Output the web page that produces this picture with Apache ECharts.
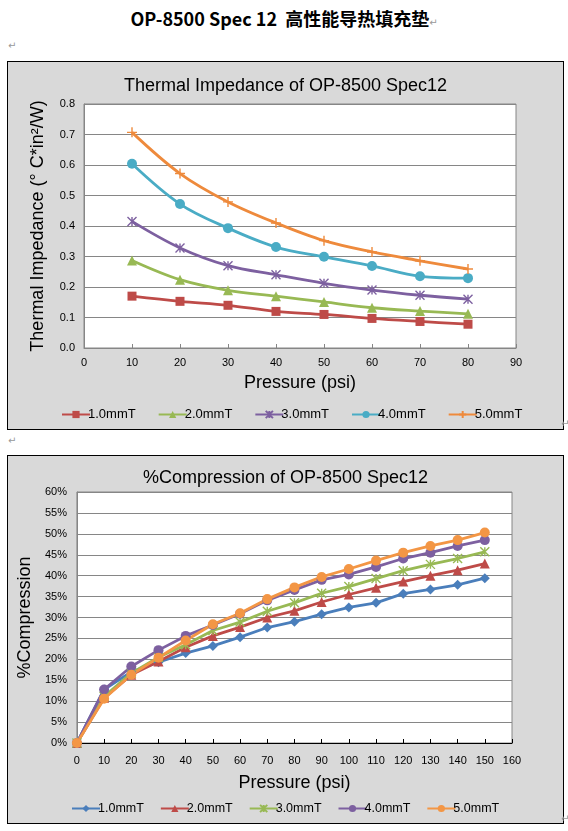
<!DOCTYPE html>
<html lang="zh">
<head>
<meta charset="UTF-8">
<title>OP-8500 Spec 12</title>
<script src="https://cdn.jsdelivr.net/npm/echarts@6.0.0/dist/echarts.min.js"></script>
<style>
    html, body { margin: 0; padding: 0; background: #fff; }
    body { width: 568px; height: 831px; position: relative; overflow: hidden; }
    #mainTitle {
        position: absolute; left: 0; top: 5px; width: 568px; text-align: center;
        font: bold 18px "Noto Sans CJK SC", "Liberation Sans", sans-serif; color: #000;
    }
    .box {
        position: absolute; left: 7px; width: 555px; height: 367px;
        border: 1px solid #000; background: #d9d9d9;
    }
    .mark { position: absolute; font: 10px "DejaVu Sans", sans-serif; color: #999; }
</style>
</head>
<body>
<div id="mainTitle">OP-8500 Spec 12&nbsp; 高性能导热填充垫<span class="mark" style="position:static">↵</span></div>
<span class="mark" style="left:8px;top:40px">↵</span>
<div id="impedance" class="box" style="top:61px"></div>
<span class="mark" style="left:561px;top:418px">↵</span>
<span class="mark" style="left:8px;top:435px">↵</span>
<div id="compression" class="box" style="top:455px"></div>
<span class="mark" style="left:561px;top:813px">↵</span>
<script type="text/javascript">
    // --- data ---
    var seriesNames = ['1.0mmT', '2.0mmT', '3.0mmT', '4.0mmT', '5.0mmT'];

    // Thermal impedance (°C*in²/W) vs pressure
    var impPressure = [10, 20, 30, 40, 50, 60, 70, 80];
    var imp10 = [0.170, 0.153, 0.140, 0.120, 0.110, 0.097, 0.087, 0.078];
    var imp20 = [0.287, 0.224, 0.189, 0.170, 0.151, 0.132, 0.121, 0.112];
    var imp30 = [0.415, 0.328, 0.270, 0.240, 0.212, 0.190, 0.173, 0.160];
    var imp40 = [0.604, 0.472, 0.393, 0.331, 0.299, 0.269, 0.235, 0.229];
    var imp50 = [0.707, 0.572, 0.479, 0.410, 0.352, 0.315, 0.286, 0.259];

    // % compression vs pressure
    var compPressure = [0, 10, 20, 30, 40, 50, 60, 70, 80, 90, 100, 110, 120, 130, 140, 150];
    var comp10 = [0, 12.8, 17.0, 19.3, 21.5, 23.2, 25.3, 27.6, 29.0, 30.8, 32.4, 33.5, 35.7, 36.7, 37.8, 39.4];
    var comp20 = [0, 10.8, 16.3, 19.5, 22.9, 25.6, 27.7, 30.0, 31.6, 33.7, 35.5, 37.1, 38.6, 40.0, 41.3, 42.9];
    var comp30 = [0, 11.1, 16.7, 20.5, 23.5, 26.9, 28.9, 31.5, 33.5, 35.8, 37.4, 39.3, 41.2, 42.7, 44.1, 45.7];
    var comp40 = [0, 12.8, 18.3, 22.2, 25.6, 28.2, 30.9, 34.1, 36.6, 39.0, 40.3, 42.1, 44.1, 45.5, 47.1, 48.5];
    var comp50 = [0, 10.6, 16.3, 20.4, 24.5, 28.4, 31.0, 34.4, 37.2, 39.7, 41.6, 43.6, 45.5, 47.1, 48.5, 50.3];

    var FONT = 'Liberation Sans';
    var ASTER = 'path://M0,0L10,10M10,0L0,10M5,0L5,10';
    var PLUS = 'path://M5,0L5,10M0,5L10,5';

    function pairs(xs, ys) {
        return xs.map(function (x, i) { return [x, ys[i]]; });
    }

    function makeSeries(name, xs, ys, color, symbol, size, smooth) {
        var stroked = symbol.indexOf('path://') === 0;
        return {
            name: name,
            type: 'line',
            data: pairs(xs, ys),
            smooth: smooth ? 0.35 : false,
            symbol: symbol,
            symbolSize: size,
            showAllSymbol: true,
            lineStyle: { color: color, width: 2.8 },
            itemStyle: stroked
                ? { color: 'rgba(0,0,0,0)', borderColor: color, borderWidth: 1.4 }
                : { color: color, borderColor: color, borderWidth: 0 },
            emphasis: { disabled: true },
            z: 3
        };
    }

    function baseOption(titleText, titleTop) {
        return {
            animation: false,
            textStyle: { fontFamily: FONT },
            title: {
                text: titleText,
                left: 'center',
                top: titleTop,
                textStyle: { fontFamily: FONT, fontSize: 18, fontWeight: 'normal', color: '#000' }
            }
        };
    }

    function legendFor(left, gap, size) {
        return {
            data: seriesNames, top: 341, left: left, itemGap: gap, itemWidth: 28, itemHeight: 9,
            textStyle: { fontFamily: FONT, fontSize: size, color: '#000', padding: [0, 0, 0, -7] }
        };
    }

    // ---------- thermal impedance ----------
    var impChart = echarts.init(document.getElementById('impedance'), null, { renderer: 'canvas' });
    var impColors = ['#BE4B48', '#98B954', '#7D60A0', '#4AACC5', '#EE8A3C'];
    var impOption = baseOption('Thermal Impedance of OP-8500 Spec12', 10);
    impOption.grid = {
        left: 76, right: 47, top: 42, bottom: 81,
        show: true, backgroundColor: '#fff', borderColor: '#868686', borderWidth: 1
    };
    impOption.legend = legendFor(48, 22, 13);
    impOption.xAxis = {
        type: 'value', min: 0, max: 90, interval: 10,
        name: 'Pressure (psi)', nameLocation: 'middle', nameGap: 26,
        nameTextStyle: { fontFamily: FONT, fontSize: 18, color: '#000' },
        axisLine: { lineStyle: { color: '#868686' } },
        axisTick: { show: true, inside: true, length: 4, lineStyle: { color: '#868686' } },
        axisLabel: { fontFamily: FONT, fontSize: 11, color: '#000', margin: 9 },
        splitLine: { show: false }
    };
    impOption.yAxis = {
        type: 'value', min: 0, max: 0.8, interval: 0.1,
        name: 'Thermal Impedance (° C*in²/W)', nameLocation: 'middle', nameGap: 37, nameRotate: 90,
        nameTextStyle: { fontFamily: FONT, fontSize: 18, color: '#000' },
        axisLine: { show: true, lineStyle: { color: '#868686' } },
        axisTick: { show: false },
        axisLabel: {
            fontFamily: FONT, fontSize: 11, color: '#000', margin: 9,
            formatter: function (v) { return v.toFixed(1); }
        },
        splitLine: { lineStyle: { color: '#868686', width: 1 } }
    };
    impOption.series = [
        makeSeries(seriesNames[0], impPressure, imp10, impColors[0], 'rect', 9, true),
        makeSeries(seriesNames[1], impPressure, imp20, impColors[1], 'triangle', 10, true),
        makeSeries(seriesNames[2], impPressure, imp30, impColors[2], ASTER, 9, true),
        makeSeries(seriesNames[3], impPressure, imp40, impColors[3], 'circle', 10, true),
        makeSeries(seriesNames[4], impPressure, imp50, impColors[4], PLUS, 10, true)
    ];
    impChart.setOption(impOption);

    // ---------- compression ----------
    var compChart = echarts.init(document.getElementById('compression'), null, { renderer: 'canvas' });
    var compColors = ['#4A7EBB', '#BE4B48', '#98B954', '#7D60A0', '#F39645'];
    var compOption = baseOption('%Compression of OP-8500 Spec12', 8);
    compOption.grid = {
        left: 68, right: 51, top: 36, bottom: 80,
        show: true, backgroundColor: '#fff', borderColor: '#868686', borderWidth: 1
    };
    compOption.legend = legendFor(58, 16, 12.5);
    compOption.xAxis = {
        type: 'value', min: 0, max: 160, interval: 10,
        name: 'Pressure (psi)', nameLocation: 'middle', nameGap: 31,
        nameTextStyle: { fontFamily: FONT, fontSize: 18, color: '#000' },
        axisLine: { lineStyle: { color: '#000' } },
        axisTick: { show: true, inside: true, length: 4, lineStyle: { color: '#000' } },
        axisLabel: { fontFamily: FONT, fontSize: 11, color: '#000', margin: 12 },
        splitLine: { show: false }
    };
    compOption.yAxis = {
        type: 'value', min: 0, max: 60, interval: 5,
        name: '%Compression', nameLocation: 'middle', nameGap: 38, nameRotate: 90,
        nameTextStyle: { fontFamily: FONT, fontSize: 18, color: '#000' },
        axisLine: { show: true, lineStyle: { color: '#868686' } },
        axisTick: { show: false },
        axisLabel: { fontFamily: FONT, fontSize: 11, color: '#000', margin: 10, formatter: '{value}%' },
        splitLine: { lineStyle: { color: '#868686', width: 1 } }
    };
    compOption.series = [
        makeSeries(seriesNames[0], compPressure, comp10, compColors[0], 'diamond', 10, false),
        makeSeries(seriesNames[1], compPressure, comp20, compColors[1], 'triangle', 10, false),
        makeSeries(seriesNames[2], compPressure, comp30, compColors[2], ASTER, 9, false),
        makeSeries(seriesNames[3], compPressure, comp40, compColors[3], 'circle', 10, false),
        makeSeries(seriesNames[4], compPressure, comp50, compColors[4], 'circle', 10, false)
    ];
    compChart.setOption(compOption);
</script>
</body>
</html>
